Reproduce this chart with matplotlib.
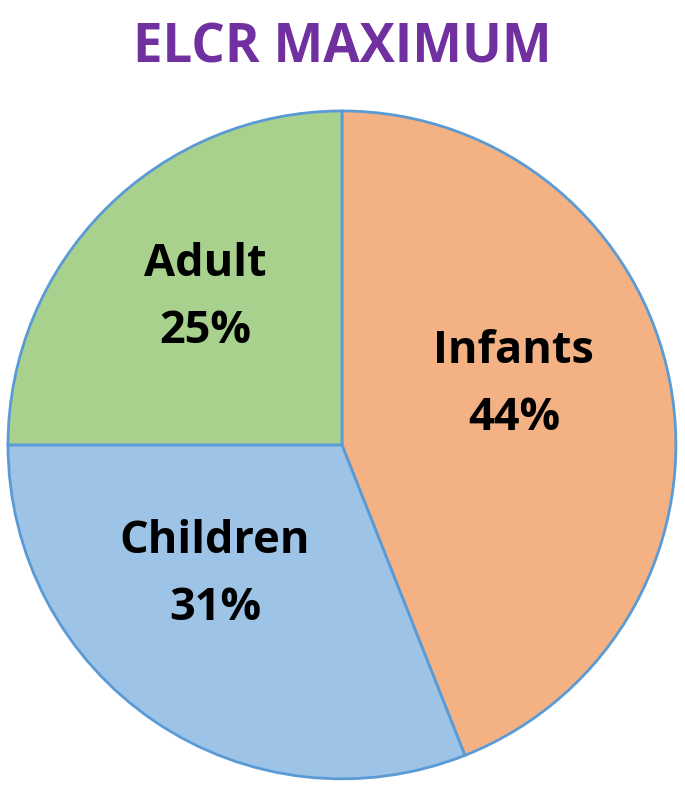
import matplotlib.pyplot as plt

# dados
categorias = ['Infants', 'Children', 'Adult']
percentuais = [44, 31, 25]
cores = ['#F4B183', '#9DC3E6', '#A9D18E']
# posição dos rótulos (unidades do raio)
pos_rotulos = [(0.515, 0.18), (-0.38, -0.39), (-0.41, 0.44)]

plt.rcParams['font.family'] = ['Open Sans', 'DejaVu Sans']

fig = plt.figure(figsize=(6.85, 7.88), dpi=100)
ax = fig.add_axes([0.0117, 0.0114, 0.975, 0.848])

ax.pie(percentuais, colors=cores, startangle=90, counterclock=False,
       wedgeprops=dict(edgecolor='#5B9BD5', linewidth=2))

for cat, pct, (x, y) in zip(categorias, percentuais, pos_rotulos):
    ax.text(x, y, f'{cat}\n{pct}%', ha='center', va='center',
            fontsize=32.5, fontweight='bold', color='black', linespacing=1.65)

ax.set_xlim(-1.0, 1.0)
ax.set_ylim(-1.0, 1.0)
ax.set_aspect('equal')
ax.axis('off')

fig.text(0.499, 0.921, 'ELCR MAXIMUM', ha='center', va='baseline',
         fontsize=38, fontweight='bold', color='#7030A0')

plt.savefig('out.png', dpi=100)
